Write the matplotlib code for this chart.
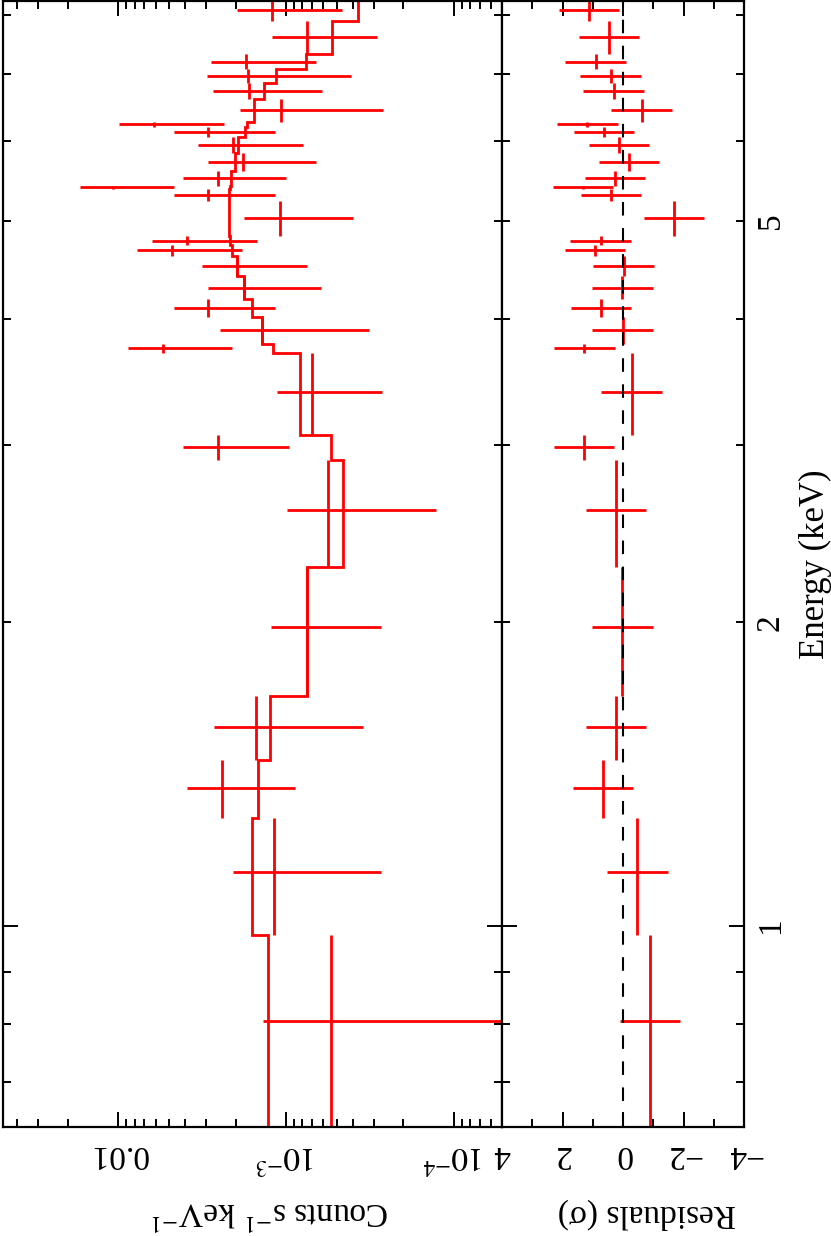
import numpy as np
import matplotlib
matplotlib.use('Agg')
import matplotlib.pyplot as plt
from matplotlib.ticker import FixedLocator, FixedFormatter, NullFormatter

plt.rcParams['font.family'] = ['Liberation Serif', 'DejaVu Serif']
plt.rcParams['mathtext.fontset'] = 'stix'

# Energy bin edges (keV), from high to low energy
e_edges = [8.28, 7.90, 7.32, 7.07, 6.85, 6.60, 6.27, 6.20, 6.06, 5.84, 5.60,
           5.42, 5.38, 5.23, 4.83, 4.73, 4.62, 4.41, 4.18, 4.02, 3.78, 3.70,
           3.07, 2.90, 2.27, 1.69, 1.46, 1.28, 0.98, 0.63]

# Data (counts s^-1 keV^-1, in units of 1e-3), one per bin
counts_1e3 = [1.208, 0.754, 1.741, 1.680, 1.664, 1.073, 6.127, 2.909, 2.064,
              1.799, 2.557, 10.80, 2.909, 1.087, 3.912, 4.806, 1.970, 1.775,
              2.909, 1.398, 5.415, 0.704, 2.546, 0.560, 0.754, 1.518, 2.400,
              1.176, 0.540]
err_1e3 = [0.746, 0.465, 1.073, 1.269, 1.052, 0.810, 3.777, 1.748, 1.273,
           1.134, 1.559, 6.115, 1.748, 0.688, 2.411, 2.965, 1.215, 1.158,
           1.748, 1.079, 3.302, 0.434, 1.587, 0.432, 0.482, 1.171, 1.512,
           0.905, 0.839]
# Model (step histogram), same bins
model_1e3 = [0.371, 0.535, 0.761, 1.149, 1.354, 1.558, 1.703, 1.758, 1.927,
             2.016, 2.130, 2.160, 2.180, 2.204, 2.160, 2.092, 1.970, 1.775,
             1.603, 1.398, 1.189, 0.821, 0.542, 0.460, 0.754, 1.239, 1.464,
             1.603, 1.277]
# Residuals (sigma)
resid = [1.13, 0.47, 0.91, 0.41, 0.31, -0.61, 1.18, 0.63, 0.14, -0.20, 0.27,
         1.32, 0.40, -1.68, 0.74, 0.93, -0.02, 0.03, 0.73, 0.02, 1.28, -0.28,
         1.29, 0.24, 0.03, 0.24, 0.66, -0.47, -0.88]

count_ticks = [1e-4, 1e-3, 1e-2]
count_ticklabels = [r'$10^{-4}$', r'$10^{-3}$', '0.01']
resid_ticks = [4, 2, 0, -2, -4]
resid_ticklabels = ['4', '2', '0', '\u22122', '\u22124']
energy_minor = [0.7, 0.8, 0.9, 2, 3, 4, 5, 6, 7, 8]
energy_minor_labels = ['', '', '', '2', '', '', '5', '', '', '']

RED = '#ff0000'
W, H = 831, 1236
fig = plt.figure(figsize=(W / 100, H / 100), dpi=100)

ax1 = fig.add_axes([2.7 / W, 1 - 1127 / H, 499.3 / W, 1126 / H])
ax2 = fig.add_axes([502 / W, 1 - 1127 / H, 242.3 / W, 1126 / H])

edges = np.array(e_edges)
e_hi = edges[:-1]
e_lo = edges[1:]
e_mid = 0.5 * (e_lo + e_hi)
c = np.array(counts_1e3) * 1e-3
ce = np.array(err_1e3) * 1e-3
m = np.array(model_1e3) * 1e-3
r = np.array(resid)

lw = 2.0
# top panel (rotated): x = counts, y = energy
ax1.stairs(m[::-1], edges[::-1], orientation='horizontal', baseline=None,
           color=RED, lw=lw)
ax1.vlines(c, e_lo, e_hi, color=RED, lw=lw)
ax1.hlines(e_mid, np.maximum(c - ce, 1e-7), c + ce, color=RED, lw=lw)
ax1.set_xscale('log')
ax1.set_yscale('log')
ax1.set_xlim(4.886e-2, 5.168e-5)
ax1.set_ylim(0.632, 8.262)

# residual panel
ax2.vlines(r, e_lo, e_hi, color=RED, lw=lw)
ax2.hlines(e_mid, r - 1, r + 1, color=RED, lw=lw)
ax2.axvline(0, color='black', lw=1.5, ls=(0, (6.5, 6)))
ax2.set_yscale('log')
ax2.set_ylim(0.632, 8.262)
ax2.set_xlim(4, -4)

for ax in (ax1, ax2):
    for s in ax.spines.values():
        s.set_linewidth(1.6)
    ax.tick_params(which='both', direction='in', top=True, bottom=True,
                   left=True, right=True, width=1.4, labelsize=24, colors='black')
    ax.tick_params(which='major', length=10.5)
    ax.tick_params(which='minor', length=5.5)
    ax.yaxis.set_major_locator(FixedLocator([1]))
    ax.yaxis.set_minor_locator(FixedLocator(energy_minor))

# counts axis ticks
ax1.xaxis.set_major_locator(FixedLocator(count_ticks))
ax1.xaxis.set_major_formatter(FixedFormatter(count_ticklabels))
ax1.xaxis.set_minor_locator(FixedLocator(
    [k * 10.0 ** p for p in range(-5, -1) for k in range(2, 10)]))
ax1.xaxis.set_minor_formatter(NullFormatter())
ax1.tick_params(axis='x', which='both', labelrotation=180, pad=9,
                labelbottom=True, labeltop=False)
ax1.tick_params(axis='y', which='both', labelleft=False, labelright=False)
ax1.yaxis.set_major_formatter(NullFormatter())
ax1.yaxis.set_minor_formatter(NullFormatter())

# residual axis ticks
ax2.xaxis.set_major_locator(FixedLocator(resid_ticks))
ax2.xaxis.set_major_formatter(FixedFormatter(resid_ticklabels))
ax2.xaxis.set_minor_locator(FixedLocator([3, 1, -1, -3]))
ax2.tick_params(axis='x', which='both', labelrotation=180, pad=9,
                labelbottom=True, labeltop=False)
ax2.yaxis.set_major_formatter(FixedFormatter(['1']))
ax2.yaxis.set_minor_formatter(FixedFormatter(energy_minor_labels))
ax2.tick_params(axis='y', which='both', labelleft=False, labelright=True,
                labelrotation=90, pad=8)
for lab in ax2.yaxis.get_ticklabels(which='both'):
    lab.set_verticalalignment('center')

fig.text(270 / W, 1 - 1212 / H, r'Counts s$^{-1}$ keV$^{-1}$', rotation=180,
         ha='center', va='center', fontsize=24)
fig.text(647 / W, 1 - 1214 / H, 'Residuals (\u03c3)', rotation=180,
         ha='center', va='center', fontsize=24)
fig.text(815 / W, 1 - 564 / H, 'Energy (keV)', rotation=90,
         ha='center', va='center', fontsize=25)

fig.savefig('out.png', dpi=100)
